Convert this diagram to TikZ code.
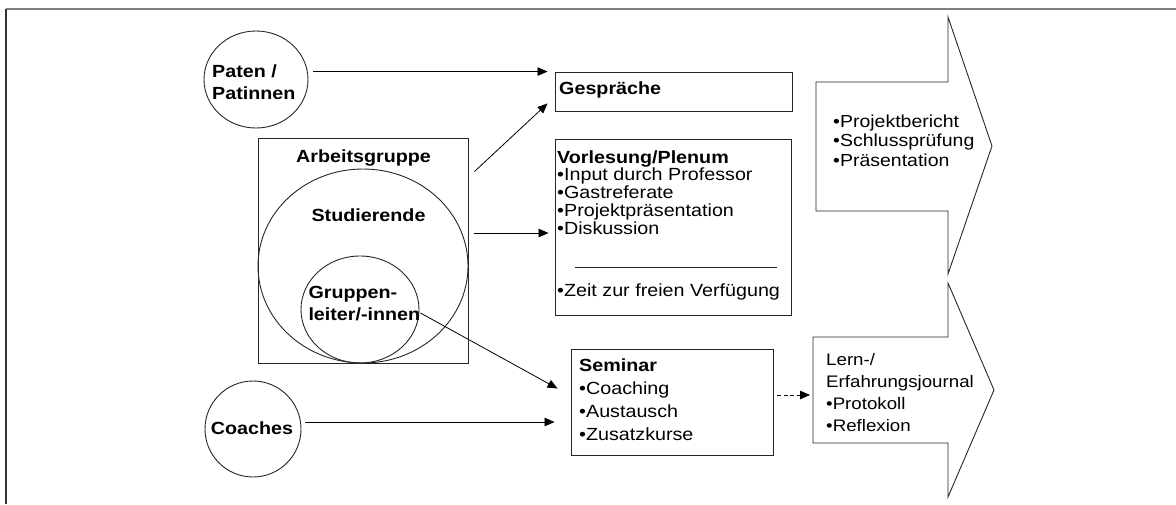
\documentclass[tikz,border=0pt]{standalone}
\usepackage{fontspec}
\setmainfont{Liberation Sans}[FakeStretch=1.12]
\usetikzlibrary{arrows.meta,calc,shapes.geometric}
\begin{document}
\begin{tikzpicture}[x=1pt,y=-1pt,
  shp/.style={draw=black!85, line width=0.9pt, inner sep=0pt},
  ell/.style={shp, ellipse},
  box/.style={shp, rectangle},
  txt/.style={inner sep=0pt, anchor=north west, align=left},
  fA/.style={font=\fontsize{17.6}{17.75}\selectfont},
  fB/.style={font=\fontsize{17.6}{23}\selectfont},
  fC/.style={font=\fontsize{17.4}{19.5}\selectfont},
  fD/.style={font=\fontsize{16.7}{22.3}\selectfont},
  fE/.style={font=\fontsize{17.6}{22}\selectfont\bfseries},
  arr/.style={line width=0.8pt, -{Triangle[length=10pt,width=8.5pt]}},
  bigarrow/.style={draw=black!85, line width=0.9pt, line join=miter}
]
\useasboundingbox (0,0) rectangle (1176,504);
% frame
\draw[draw=black!50, line width=2pt] (6,9) -- (1176,9);
\draw[draw=black!80, line width=1.5pt] (6,9) -- (6,504);

% shapes
\node[ell, minimum width=104, minimum height=97] (paten) at (256,79.5) {};
\node[ell, minimum width=96, minimum height=96] (coaches) at (253,429) {};
\node[box, minimum width=210, minimum height=225] (ag) at (363,250.5) {};
\node[ell, minimum width=210, minimum height=194] (stud) at (363,266) {};
\node[ell, minimum width=118, minimum height=107] (gl) at (360,309.5) {};
\node[box, minimum width=237, minimum height=39] (gesp) at (673.5,91.5) {};
\node[box, minimum width=236, minimum height=176] (vl) at (673,227) {};
\node[box, minimum width=202, minimum height=106] (sem) at (672,402) {};

% big arrows
\draw[bigarrow] (816,82) -- (948,82) -- (948,17) -- (992,146) -- (948,274)
  -- (948,211) -- (816,211) -- cycle;
\draw[bigarrow] (813,337) -- (948,337) -- (948,283) -- (994,390) -- (948,497)
  -- (948,443) -- (813,443) -- cycle;
\coordinate (upL) at (816,146);
\coordinate (lowL) at (813,395);

% texts
\node[txt, fE] (tpaten) at (212,64.7) {Paten /\\Patinnen};
\node[inner sep=0pt, fE] (tcoach) at (252,428) {Coaches};
\node[inner sep=0pt, anchor=north, fE] (tag) at (363.5,149.7) {Arbeitsgruppe};
\node[inner sep=0pt, anchor=north, fE] (tstud) at (368.5,209) {Studierende};
\node[txt, font=\fontsize{17.6}{21.7}\selectfont\bfseries] (tgl) at (308.3,286.4) {Gruppen-\\leiter/-innen};
\node[txt, fE] (tgesp) at (559,81.2) {Gespräche};
\node[txt, fA] (tvl) at (557,150.2) {\textbf{Vorlesung/Plenum}\\•Input durch Professor\\•Gastreferate\\•Projektpräsentation\\•Diskussion};
\draw[line width=0.8pt, draw=black!85] ($(vl.west)+(20,40)$) -- ($(vl.east)+(-14,40)$);
\node[txt, fA] (tzeit) at (557,283.5) {•Zeit zur freien Verfügung};
\node[txt, fB] (tsem) at (579,358.2) {\textbf{Seminar}\\•Coaching\\•Austausch\\•Zusatzkurse};
\node[txt, fC] (tup) at (833,114.2) {•Projektbericht\\•Schlussprüfung\\•Präsentation};
\node[txt, fD] (tlow) at (826,352.7) {Lern-/\\Erfahrungsjournal\\•Protokoll\\•Reflexion};

% connectors
\draw[arr] ($(paten.east |- gesp.north)+(5,0)$) -- ($(gesp.north west)+(-7,0)$);
\draw[arr] ($(ag.north east)+(6,34)$) -- ($(gesp.south west)+(-7,-8)$);
\draw[arr] ($(ag.east)+(6,-17.5)$) -- ($(vl.west)+(-6,6)$);
\draw[arr] ($(gl.east)+(1,3.5)$) -- ($(sem.north west)+(-13,40)$);
\draw[arr] ($(coaches.east)+(4,-7)$) -- ($(sem.west)+(-16,20)$);
\draw[arr, dash pattern=on 4pt off 2.5pt] ($(sem.east)+(4,-7)$) -- ($(lowL)+(-3,0)$);
\end{tikzpicture}
\end{document}
